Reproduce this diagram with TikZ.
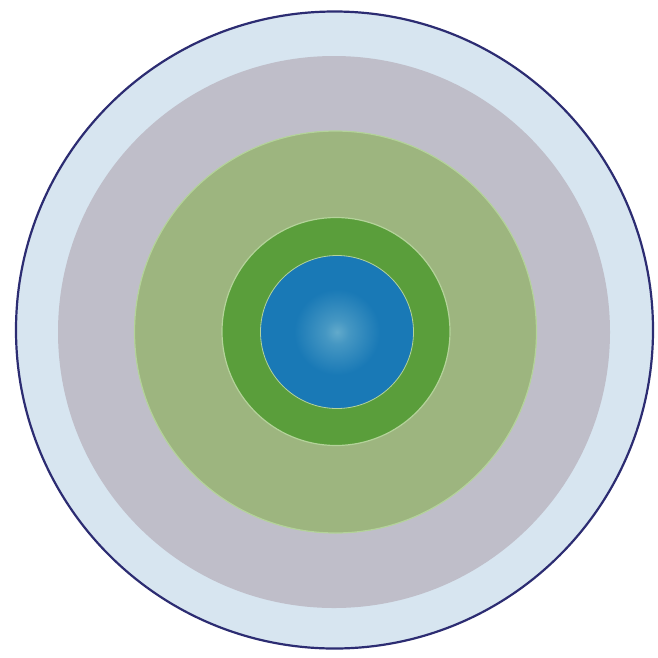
\documentclass[tikz,border=0pt]{standalone}
\begin{document}
\begin{tikzpicture}[x=1pt,y=-1pt]
\definecolor{ringblue}{HTML}{D7E5F0}
\definecolor{ringgray}{HTML}{BFBEC9}
\definecolor{lightgreen}{HTML}{9DB57F}
\definecolor{darkgreen}{HTML}{5A9E3B}
\definecolor{paleline}{HTML}{B4D39A}
\definecolor{coreblue}{HTML}{1979B6}
\definecolor{coreedge}{HTML}{1467AA}
\definecolor{corehi}{HTML}{62AACB}
\definecolor{rimline}{HTML}{2C2C72}
\pgfdeclareradialshading{coreshade}{\pgfpoint{0bp}{0bp}}{color(0bp)=(corehi); color(4bp)=(corehi!60!coreblue); color(14bp)=(coreblue); color(40bp)=(coreblue); color(50bp)=(coreedge)}
\useasboundingbox (0,0) rectangle (658,657);
\fill[white] (0,0) rectangle (658,657);
\fill[ringblue, draw=rimline, line width=2.2pt] (334.5,330) circle (318.5);
\fill[ringgray] (334,332) circle (276);
\fill[lightgreen, draw=paleline, line width=1.2pt] (335.5,332) circle (201);
\fill[darkgreen, draw=paleline, line width=1.2pt] (336,331.5) circle (114);
\shade[shading=coreshade, draw=paleline, line width=0.8pt] (337,332) circle (76.5);
\end{tikzpicture}
\end{document}
